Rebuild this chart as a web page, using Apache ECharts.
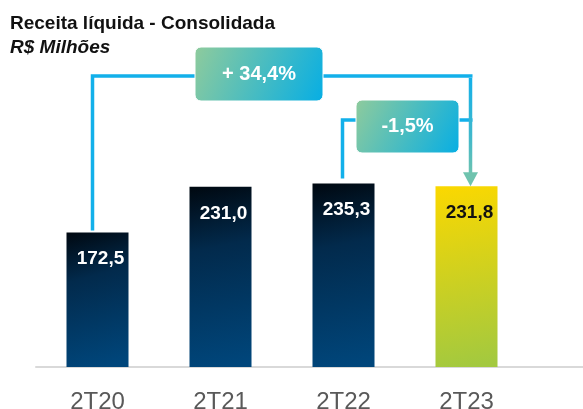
<!DOCTYPE html>
<html lang="pt">
<head>
    <meta charset="UTF-8">
    <title>Receita líquida - Consolidada</title>
    <style>
        body { margin: 0; overflow: hidden; background: #fff; }
        #chart { width: 583px; height: 409px; }
    </style>
</head>
<body>
    <div id="chart"></div>
    <script src="https://cdn.jsdelivr.net/npm/echarts@6/dist/echarts.min.js"></script>
    <script>
        // dados
        var categories = ['2T20', '2T21', '2T22', '2T23'];
        var values = [172.5, 231.0, 235.3, 231.8];
        var valueLabels = ['172,5', '231,0', '235,3', '231,8'];
        // variações: de qual barra, para qual, texto
        var changeFrom = [0, 2];
        var changeTo = [3, 3];
        var changeText = ['+ 34,4%', '-1,5%'];

        var FONT = 'Liberation Sans, Arial, sans-serif';
        var myChart = echarts.init(document.getElementById('chart'));

        var darkBar = new echarts.graphic.LinearGradient(0, 0, 0.6, 1, [
            { offset: 0, color: '#000810' },
            { offset: 0.35, color: '#022a4c' },
            { offset: 1, color: '#00467b' }
        ]);
        var lastBar = new echarts.graphic.LinearGradient(0, 0, 0.5, 1, [
            { offset: 0, color: '#fbd800' },
            { offset: 1, color: '#a3c93f' }
        ]);

        var barData = values.map(function (v, i) {
            return {
                value: v,
                itemStyle: { color: i === values.length - 1 ? lastBar : darkBar },
                label: {
                    formatter: valueLabels[i],
                    color: i === values.length - 1 ? '#111' : '#fff'
                }
            };
        });

        var option = {
            animation: false,
            title: {
                text: 'Receita líquida - Consolidada',
                subtext: 'R$ Milhões',
                left: 10,
                top: 14,
                itemGap: 5,
                padding: 0,
                textStyle: { fontFamily: FONT, fontSize: 19, fontWeight: 'bold', color: '#111' },
                subtextStyle: { fontFamily: FONT, fontSize: 19, fontWeight: 'bold', fontStyle: 'italic', color: '#111' }
            },
            grid: { left: 36, right: 55, top: 133, bottom: 42, outerBoundsMode: 'none', containLabel: false },
            xAxis: {
                type: 'category',
                data: categories,
                axisLine: { lineStyle: { color: '#d9d9d9', width: 2 } },
                axisTick: { show: false },
                axisLabel: { color: '#595959', fontSize: 24, fontFamily: FONT, margin: 23 }
            },
            yAxis: {
                type: 'value',
                min: 0,
                max: 300,
                show: false
            },
            series: [{
                type: 'bar',
                barWidth: 62,
                data: barData,
                label: {
                    show: true,
                    position: 'insideTop',
                    distance: 17,
                    offset: [3, 0],
                    fontFamily: FONT,
                    fontSize: 19,
                    fontWeight: 'bold'
                }
            }]
        };
        myChart.setOption(option);

        // anotações de variação
        function px(i) {
            return myChart.convertToPixel({ seriesIndex: 0 }, [i, values[i]]);
        }
        var blue = '#12b0ea';
        var teal = '#6fc3ae';
        var lineLevels = [76, 120];
        var boxes = [
            { x: 195, y: 47, w: 128, h: 54 },
            { x: 356, y: 100, w: 103, h: 53 }
        ];
        var target = px(changeTo[0]);
        var arrowX = target[0] + 4;
        var graphics = [];

        // linha do eixo até a borda
        var base = myChart.convertToPixel({ seriesIndex: 0 }, [0, 0]);
        graphics.push({
            type: 'line',
            shape: { x1: 36, y1: base[1], x2: 583, y2: base[1] },
            style: { stroke: '#d9d9d9', lineWidth: 2 },
            z: 1
        });

        changeText.forEach(function (txt, k) {
            var from = px(changeFrom[k]);
            var startX = k === 0 ? from[0] - 5 : from[0] - 1;
            var startY = k === 0 ? from[1] - 2 : from[1] - 5;
            var y = lineLevels[k];
            graphics.push({
                type: 'polyline',
                shape: { points: [[startX, startY], [startX, y], [arrowX + 2, y]] },
                style: { stroke: blue, lineWidth: 3.5, fill: null },
                z: 10
            });
            var b = boxes[k];
            graphics.push({
                type: 'rect',
                shape: { x: b.x, y: b.y, width: b.w, height: b.h, r: 6 },
                style: {
                    fill: new echarts.graphic.LinearGradient(0, 0, 1, 1, [
                        { offset: 0, color: '#8fcb9c' },
                        { offset: 1, color: '#06aee4' }
                    ]),
                    stroke: '#fff',
                    lineWidth: 1
                },
                z: 20
            });
            graphics.push({
                type: 'text',
                x: b.x + b.w / 2,
                y: b.y + b.h / 2,
                style: {
                    text: txt,
                    fill: '#fff',
                    font: 'bold 20px ' + FONT,
                    align: 'center',
                    verticalAlign: 'middle'
                },
                z: 21
            });
        });

        // seta vertical até a última barra
        var headTop = target[1] - 14;
        graphics.push({
            type: 'line',
            shape: { x1: arrowX, y1: lineLevels[0] + 2, x2: arrowX, y2: headTop + 1 },
            style: {
                stroke: new echarts.graphic.LinearGradient(0, 0, 0, 1, [
                    { offset: 0, color: blue },
                    { offset: 0.6, color: '#3fb8cc' },
                    { offset: 1, color: teal }
                ]),
                lineWidth: 3.5
            },
            z: 10
        });
        graphics.push({
            type: 'polygon',
            shape: { points: [[arrowX - 7.5, headTop], [arrowX + 7.5, headTop], [arrowX, target[1]]] },
            style: { fill: teal },
            z: 10
        });

        myChart.setOption({ graphic: graphics });
    </script>
</body>
</html>
